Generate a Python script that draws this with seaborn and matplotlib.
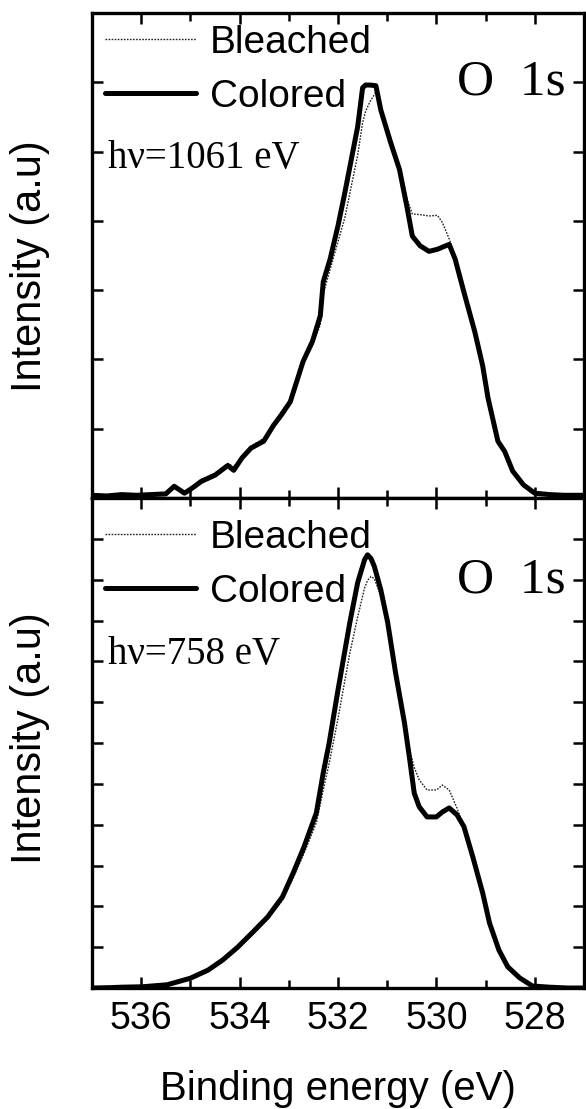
import numpy as np
import pandas as pd
import matplotlib
matplotlib.use("Agg")
import matplotlib.pyplot as plt
from matplotlib.ticker import MultipleLocator
import seaborn as sns

# ---- O 1s spectra, hv = 1061 eV ----
energy_1061 = [537.0, 536.7, 536.4, 536.1, 535.8, 535.5, 535.33, 535.12, 534.95, 534.78,
               534.5, 534.24, 534.12, 533.95, 533.77, 533.51, 533.31, 533.15, 532.97, 532.71,
               532.52, 532.36, 532.3, 532.16, 532.0, 531.86, 531.6, 531.5, 531.44, 531.35,
               531.23, 531.13, 530.93, 530.75, 530.59, 530.49, 530.33, 530.15, 529.98, 529.88,
               529.74, 529.62, 529.44, 529.22, 529.06, 528.95, 528.75, 528.61, 528.45, 528.23,
               528.0, 527.7, 527.4, 527.0]
colored_1061 = [0.04, 0.03, 0.05, 0.04, 0.05, 0.06, 0.17, 0.07, 0.15, 0.24,
                0.33, 0.47, 0.40, 0.58, 0.72, 0.82, 1.05, 1.20, 1.39, 1.97,
                2.26, 2.63, 3.12, 3.45, 3.93, 4.41, 5.36, 5.92, 5.96, 5.96,
                5.95, 5.60, 5.13, 4.74, 4.17, 3.78, 3.64, 3.56, 3.59, 3.62,
                3.66, 3.45, 2.97, 2.40, 1.91, 1.44, 0.82, 0.67, 0.39, 0.19,
                0.07, 0.05, 0.04, 0.04]
bleached_1061 = [0.05, 0.04, 0.03, 0.06, 0.04, 0.07, 0.14, 0.10, 0.17, 0.27,
                 0.36, 0.50, 0.45, 0.60, 0.75, 0.86, 1.08, 1.25, 1.42, 1.95,
                 2.20, 2.50, 2.95, 3.30, 3.70, 4.05, 4.95, 5.42, 5.58, 5.72,
                 5.86, 5.62, 5.20, 4.80, 4.30, 4.10, 4.09, 4.07, 4.08, 3.98,
                 3.74, 3.48, 2.99, 2.42, 1.93, 1.46, 0.84, 0.69, 0.41, 0.21,
                 0.09, 0.06, 0.05, 0.05]

# ---- O 1s spectra, hv = 758 eV ----
energy_758 = [537.0, 536.6, 536.4, 535.98, 535.47, 535.0, 534.64, 534.34, 534.04, 533.73,
              533.43, 533.13, 532.91, 532.69, 532.44, 532.3, 532.18, 532.0, 531.76, 531.6,
              531.46, 531.4, 531.33, 531.26, 531.13, 530.99, 530.83, 530.65, 530.55, 530.45,
              530.35, 530.19, 530.0, 529.88, 529.74, 529.58, 529.44, 529.26, 529.06, 528.92,
              528.73, 528.55, 528.31, 528.05, 527.7, 527.32, 527.0]
colored_758 = [0.0, 0.01, 0.02, 0.03, 0.08, 0.24, 0.44, 0.69, 1.00, 1.37,
               1.74, 2.23, 2.82, 3.46, 4.29, 5.27, 6.00, 7.30, 8.95, 9.93,
               10.49, 10.61, 10.52, 10.32, 9.75, 8.95, 7.72, 6.50, 5.66, 4.77,
               4.44, 4.19, 4.19, 4.31, 4.41, 4.24, 3.95, 3.21, 2.33, 1.59,
               0.93, 0.52, 0.25, 0.05, 0.02, 0.0, 0.0]
bleached_758 = [0.0, 0.0, 0.01, 0.02, 0.06, 0.20, 0.40, 0.64, 0.95, 1.32,
                1.68, 2.15, 2.70, 3.30, 4.05, 4.85, 5.50, 6.60, 8.20, 9.09,
                9.80, 9.98, 10.08, 10.02, 9.60, 8.85, 7.68, 6.55, 5.85, 5.40,
                5.10, 4.85, 4.85, 4.97, 4.85, 4.40, 3.93, 3.20, 2.30, 1.55,
                0.88, 0.47, 0.22, 0.05, 0.02, 0.0, 0.0]

series_labels = ["Bleached", "Colored"]
photon_labels = ["h\u03bd=1061 eV", "h\u03bd=758 eV"]
core_level = "O  1s"
x_ticks = [536, 534, 532, 530, 528]

sns.set_style("ticks")
SANS = ["Liberation Sans", "DejaVu Sans"]
SERIF = ["Liberation Serif", "DejaVu Serif"]
plt.rcParams.update({
    "font.family": SANS,
    "text.color": "black",
    "axes.labelcolor": "black",
    "xtick.color": "black",
    "ytick.color": "black",
    "axes.edgecolor": "black",
})

fig = plt.figure(figsize=(5.86, 11.09), dpi=100)
ax_top = fig.add_axes([0.157, 0.5509, 0.8396, 0.4374])
ax_bot = fig.add_axes([0.157, 0.1091, 0.8396, 0.4418])

FS_TICK = 27
FS_TEXT = 28

panels = [
    (ax_top, energy_1061, bleached_1061, colored_1061, 7, photon_labels[0],
     0.975, 0.70, 0.858, 0.478),
    (ax_bot, energy_758, bleached_758, colored_758, 12, photon_labels[1],
     0.955, 0.68, 0.833, 0.51),
]

for ax, en, bl, co, ymax, plabel, leg_y, hv_y, core_y, ylab_y in panels:
    df = pd.DataFrame({
        "energy": en * 2,
        "intensity": bl + co,
        "sample": [series_labels[0]] * len(en) + [series_labels[1]] * len(en),
    })
    sns.lineplot(data=df[df["sample"] == "Bleached"], x="energy", y="intensity",
                 color="#222222", linewidth=1.0, linestyle=(0, (1.2, 1.0)),
                 label=series_labels[0], ax=ax)
    sns.lineplot(data=df[df["sample"] == "Colored"], x="energy", y="intensity",
                 color="black", linewidth=3.6, label=series_labels[1], ax=ax)

    ax.set_xlim(537, 527)
    ax.set_ylim(0, ymax)
    ax.set_xticks(x_ticks)
    ax.xaxis.set_minor_locator(MultipleLocator(1))
    ax.yaxis.set_major_locator(MultipleLocator(1))
    ax.tick_params(axis="both", which="both", direction="in", top=True, right=True,
                   width=1.8, labelsize=FS_TICK, pad=9)
    ax.tick_params(axis="both", which="major", length=8)
    ax.tick_params(axis="both", which="minor", length=6)
    ax.set_yticklabels([])
    for sp in ax.spines.values():
        sp.set_linewidth(2.4)
        sp.set_color("black")

    ax.set_xlabel("")
    ax.set_ylabel("Intensity (a.u)", fontsize=30)
    ax.yaxis.set_label_coords(-0.085, ylab_y)

    ax.legend(loc="upper left", bbox_to_anchor=(0.026, leg_y), frameon=False,
              fontsize=FS_TEXT, handlelength=2.35, handletextpad=0.35,
              labelspacing=0.45, borderpad=0, borderaxespad=0)

    ax.text(0.033, hv_y, plabel, transform=ax.transAxes, ha="left", va="center",
            fontsize=28, family=SERIF)
    ax.text(0.962, core_y, core_level, transform=ax.transAxes, ha="right", va="center",
            fontsize=37, family=SERIF)

ax_top.tick_params(axis="x", labelbottom=False)
ax_bot.set_xlabel("Binding energy (eV)", fontsize=29)
ax_bot.xaxis.set_label_coords(0.5, -0.168)

fig.savefig("out.png", dpi=100)
